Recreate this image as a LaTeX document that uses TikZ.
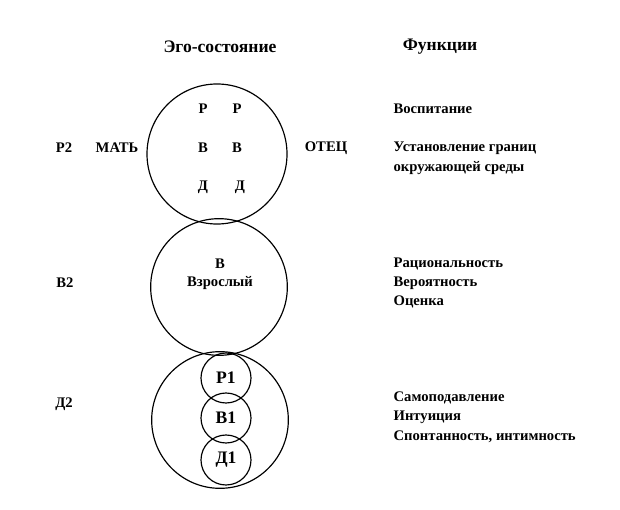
\documentclass[tikz,border=0pt]{standalone}
\usepackage{fontspec}
\setmainfont{Liberation Serif}
\begin{document}
\begin{tikzpicture}[x=0.03cm,y=-0.03cm,thick,
  lbl/.style={font=\bfseries\fontsize{12.5}{14}\selectfont,inner sep=1pt},
  func/.style={lbl,anchor=west},
  head/.style={font=\bfseries\fontsize{15}{17}\selectfont},
  ego/.style={circle,draw,line width=1pt},
  small ego/.style={circle,draw,line width=1pt,minimum size=1.5cm,inner sep=0pt,font=\bfseries\fontsize{15}{17}\selectfont}]

\useasboundingbox (0,0) rectangle (620,510);

% headings
\node[head] (egohead) at (220,47) {Эго-состояние};
\node[head] (funchead) at (440,47) {Функции};

% ego circles
\node[ego,minimum size=4.2cm] (parent) at (217,154) {};
\node[ego,minimum size=4.1cm] (adult) at (219,287) {};
\node[ego,minimum size=4.1cm] (child) at (220,420) {};

% parent
\node[lbl] (pl) at (203,109) {Р};
\node[lbl] (pr) at (237,109) {Р};
\node[lbl] (al) at (203,148) {В};
\node[lbl] (ar) at (237,148) {В};
\node[lbl] (cl) at (203,187) {Д};
\node[lbl] (cr) at (240,187) {Д};
\node[lbl] (p2) at (64,148) {Р2};
\node[lbl] (mother) at (117,148) {МАТЬ};
\node[lbl] (father) at (326,148) {ОТЕЦ};

% adult
\node[lbl] (a) at (220,264) {В};
\node[lbl] (adulttxt) at (220,283) {Взрослый};
\node[lbl] (b2) at (65,283) {В2};

% child
\node[small ego] (p1) at (226,378) {Р1};
\node[small ego] (b1) at (226,418) {В1};
\node[small ego] (d1) at (226,460) {Д1};
\node[lbl] (d2) at (64,404) {Д2};

% functions
\node[func] (f1) at (392,109) {Воспитание};
\node[func] (f2) at (392,148) {Установление границ};
\node[func] (f3) at (392,168) {окружающей среды};
\node[func] (f4) at (392,264) {Рациональность};
\node[func] (f5) at (392,283) {Вероятность};
\node[func] (f6) at (392,302) {Оценка};
\node[func] (f7) at (392,398) {Самоподавление};
\node[func] (f8) at (392,417) {Интуиция};
\node[func] (f9) at (392,437) {Спонтанность, интимность};
\end{tikzpicture}
\end{document}
